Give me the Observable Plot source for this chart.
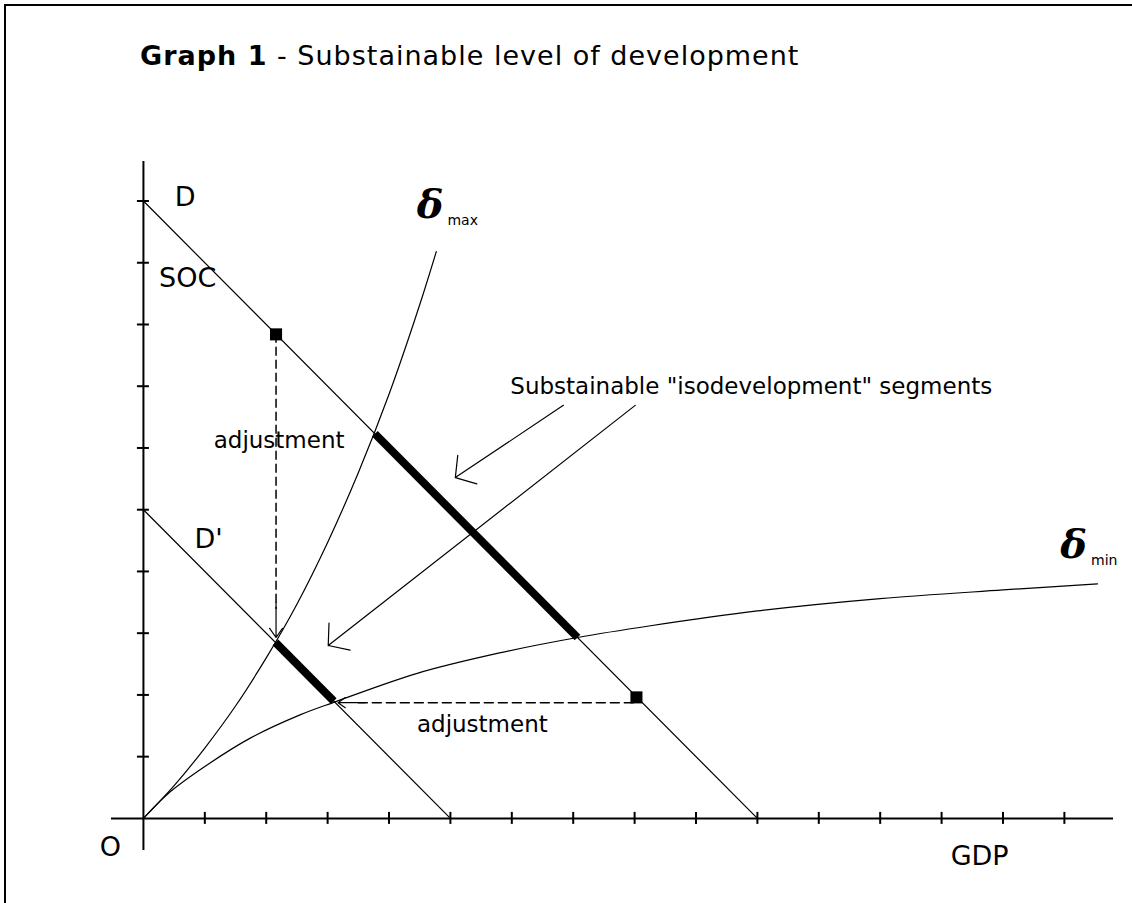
<!DOCTYPE html>
<html><head><meta charset="utf-8">
<script src="https://cdn.jsdelivr.net/npm/d3@7"></script>
<script src="https://cdn.jsdelivr.net/npm/@observablehq/plot@0.6"></script>
<style>
html{overflow:hidden}
body{margin:0;background:#fff;width:1132px;height:903px;overflow:hidden;position:relative;font-family:"DejaVu Sans",sans-serif}
#frameTop{position:absolute;left:4px;top:4px;width:1128px;height:2px;background:#000}
#frameLeft{position:absolute;left:4px;top:4px;width:2px;height:899px;background:#000}
#title{position:absolute;left:140px;top:42px;font-size:27px;line-height:27px;letter-spacing:1px;white-space:nowrap;color:#000}
#chart{position:absolute;left:0;top:0}
</style></head><body>
<div id="frameTop"></div><div id="frameLeft"></div>
<div id="title"><b>Graph 1</b> - Substainable level of development</div>
<div id="chart"></div>
<script>
// ---- data ----
const xTicks = [1,2,3,4,5,6,7,8,9,10,11,12,13,14,15];
const yTicks = [1,2,3,4,5,6,7,8,9,10];
// isodevelopment lines  D: GDP+SOC=10,  D': GDP+SOC=5
const lineDX = [0, 10], lineDY = [10, 0];
const lineD2X = [0, 5], lineD2Y = [5, 0];
// delta max curve
const dMaxX = [0, 0.5, 1, 1.5, 2, 2.5, 3, 3.5, 4, 4.5, 4.77];
const dMaxY = [0, 0.53, 1.14, 1.82, 2.6, 3.47, 4.47, 5.6, 6.87, 8.32, 9.18];
// delta min curve
const dMinX = [0, 0.4, 1, 1.74, 2.56, 3.1, 4.46, 5.8, 7.07, 8.26, 10, 12, 14, 15.54];
const dMinY = [0, 0.4, 0.84, 1.3, 1.68, 1.88, 2.35, 2.68, 2.93, 3.12, 3.36, 3.56, 3.7, 3.8];
// sustainable segments (thick)
const segDX = [3.77, 7.07], segDY = [6.23, 2.93];
const segD2X = [2.15, 3.1], segD2Y = [2.85, 1.9];
// black squares (points on D)
const pointsX = [2.16, 8.03], pointsY = [7.84, 1.96];
// adjustment (dashed) paths
const adjVX = [2.16, 2.16], adjVY = [7.84, 3.4];
const adjHX = [3.5, 8.03], adjHY = [1.875, 1.875];
// annotation arrows
const arrowX1 = [6.84, 8.01], arrowY1 = [6.69, 6.69];
const arrowX2 = [5.08, 3.01], arrowY2 = [5.52, 2.80];
// labels
const labelText = ["D", "D'", "SOC", "O", "GDP"];
const labelX = [0.68, 1.06, 0.72, -0.54, 13.62];
const labelY = [10.06, 4.52, 8.74, -0.47, -0.61];
const noteText = ["adjustment", "adjustment", "Substainable \"isodevelopment\" segments"];
const noteX = [2.21, 5.52, 9.9];
const noteY = [6.12, 1.52, 6.99];
const deltaText = ["δ", "δ"];
const deltaX = [4.67, 15.15], deltaY = [9.93, 4.42];
const subText = ["max", "min"];
const subX = [5.2, 15.65], subY = [9.68, 4.18];

const zip = (xs, ys, extra) => xs.map((x, i) => Object.assign({x, y: ys[i]}, extra ? extra(i) : {}));
const tx = 6 / 61.4, ty = 6 / 61.74;
const font = "DejaVu Sans";

const chart = Plot.plot({
  width: 1132, height: 903,
  marginLeft: 111, marginRight: 19, marginTop: 161, marginBottom: 53,
  x: {domain: [-0.52, 15.8], axis: null},
  y: {domain: [-0.52, 10.64], axis: null},
  style: {fontFamily: font, background: "transparent", overflow: "visible", color: "#000"},
  marks: [
    // axes
    Plot.ruleY([0], {stroke: "#000", strokeWidth: 2}),
    Plot.ruleX([0], {stroke: "#000", strokeWidth: 2}),
    Plot.ruleX(xTicks, {x: d => d, y1: () => -ty, y2: () => ty, stroke: "#000", strokeWidth: 2}),
    Plot.ruleY(yTicks, {y: d => d, x1: () => -tx, x2: () => tx, stroke: "#000", strokeWidth: 2}),
    // curves
    Plot.line(zip(dMaxX, dMaxY), {x: "x", y: "y", curve: "catmull-rom", stroke: "#000", strokeWidth: 1.2}),
    Plot.line(zip(dMinX, dMinY), {x: "x", y: "y", curve: "catmull-rom", stroke: "#000", strokeWidth: 1.2}),
    // D and D'
    Plot.line(zip(lineDX, lineDY), {x: "x", y: "y", stroke: "#000", strokeWidth: 1.2}),
    Plot.line(zip(lineD2X, lineD2Y), {x: "x", y: "y", stroke: "#000", strokeWidth: 1.2}),
    // sustainable segments
    Plot.line(zip(segDX, segDY), {x: "x", y: "y", stroke: "#000", strokeWidth: 8, strokeLinecap: "butt"}),
    Plot.line(zip(segD2X, segD2Y), {x: "x", y: "y", stroke: "#000", strokeWidth: 8, strokeLinecap: "butt"}),
    // adjustments
    Plot.line(zip(adjVX, adjVY), {x: "x", y: "y", stroke: "#000", strokeWidth: 1.5, strokeDasharray: "8,5"}),
    Plot.line(zip(adjHX, adjHY), {x: "x", y: "y", stroke: "#000", strokeWidth: 1.5, strokeDasharray: "9,5"}),
    Plot.arrow([0], {x1: () => adjVX[0], y1: () => 3.5, x2: () => adjVX[0], y2: () => 2.93, stroke: "#000", strokeWidth: 1.2, headAngle: 70, headLength: 14}),
    Plot.arrow([0], {x1: () => 3.6, y1: () => adjHY[0], x2: () => 3.17, y2: () => adjHY[0], stroke: "#000", strokeWidth: 1.2, headAngle: 70, headLength: 14}),
    Plot.dot(zip(pointsX, pointsY), {x: "x", y: "y", symbol: "square", r: 6.8, fill: "#000", stroke: "none"}),
    // annotation arrows
    Plot.arrow(arrowX1.map((d, i) => ({x1: d, y1: arrowY1[i], x2: arrowX2[i], y2: arrowY2[i]})),
      {x1: "x1", y1: "y1", x2: "x2", y2: "y2", stroke: "#000", strokeWidth: 1.2, headAngle: 100, headLength: 28}),
    // labels
    Plot.text(zip(labelX, labelY, i => ({t: labelText[i]})), {x: "x", y: "y", text: "t", fontSize: 27, fill: "#000"}),
    Plot.text(zip(noteX, noteY, i => ({t: noteText[i]})), {x: "x", y: "y", text: "t", fontSize: 23, fill: "#000"}),
    Plot.text(zip(deltaX, deltaY, i => ({t: deltaText[i]})), {x: "x", y: "y", text: "t", fontSize: 40, fontWeight: "bold", fontStyle: "italic", fontFamily: "DejaVu Serif", fill: "#000"}),
    Plot.text(zip(subX, subY, i => ({t: subText[i]})), {x: "x", y: "y", text: "t", fontSize: 14, fill: "#000"})
  ]
});
document.getElementById("chart").appendChild(chart);
</script>
</body></html>
